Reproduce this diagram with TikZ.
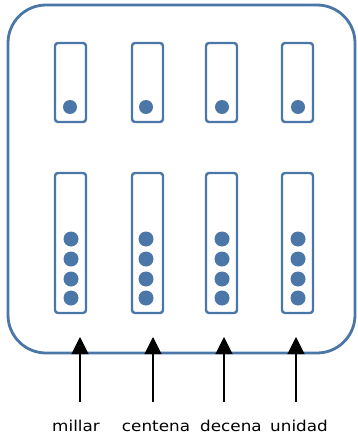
\documentclass[tikz,border=0pt]{standalone}
\usepackage{fontspec}
\setmainfont{DejaVu Sans}[FakeStretch=1.12]
\usetikzlibrary{arrows.meta}
\definecolor{frameblue}{HTML}{4A76A8}
\tikzset{
  outerbox/.style={draw=frameblue,line width=2.8pt,rounded corners=38pt},
  slot/.style={draw=frameblue,line width=2.4pt,rounded corners=3pt,fill=white},
  bead/.style={circle,fill=frameblue,inner sep=0pt,minimum size=#1},
  bead/.default=15pt,
  pointer/.style={draw=black,line width=1.1pt,-{Triangle[width=17pt,length=17pt]}},
  lab/.style={font=\fontsize{15pt}{17pt}\selectfont,anchor=base,inner sep=0pt}
}
\begin{document}
\begin{tikzpicture}[x=1pt,y=-1pt]
\useasboundingbox (0,0) rectangle (358,441);
\draw[outerbox] (8,5) rectangle (355,353);
% top slots
\foreach \i/\x/\dx in {1/55/70,2/132/146,3/206/222,4/282/298}{
  \draw[slot] (\x,43) rectangle ++(31,79);
  \node[bead=14pt] (t\i) at (\dx,107) {};
  \draw[slot] (\x,173) rectangle ++(31,140);
}
% bottom beads
\foreach \i/\dx in {1/71,2/146,3/222,4/298}{
  \foreach \j/\y in {1/239,2/259,3/279,4/298}{
    \node[bead=15pt] (b\i\j) at (\dx,\y) {};
  }
}
% arrows
\foreach \i/\x in {1/80,2/153,3/224,4/296}{
  \coordinate (tail\i) at (\x,402);
  \coordinate (head\i) at (\x,337);
  \draw[pointer] (tail\i) -- (head\i);
}
\node[lab] (l1) at (76,431) {millar};
\node[lab] (l2) at (156,431) {centena};
\node[lab] (l3) at (231,431) {decena};
\node[lab] (l4) at (299,431) {unidad};
\end{tikzpicture}
\end{document}
